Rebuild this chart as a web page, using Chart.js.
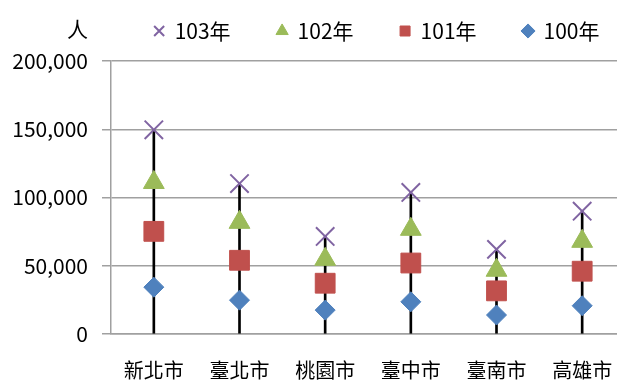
<!DOCTYPE html>
<html><head><meta charset="utf-8">
<script src="https://cdn.jsdelivr.net/npm/chart.js@4"></script>
<style>
html,body{margin:0;padding:0;background:#fff;overflow:hidden;width:617px;height:381px}
#wrap{position:relative;width:640px;height:381px}
#unit{position:absolute;left:67px;top:18px;font:21px/21px "Noto Sans CJK TC";color:#000}
</style></head><body>
<div id="wrap"><canvas id="c" width="640" height="381"></canvas><div id="unit">人</div></div>
<script>
const cities = ['新北市','臺北市','桃園市','臺中市','臺南市','高雄市'];
const years = ['103年','102年','101年','100年'];
const v103 = [149600, 110200, 71500, 103700, 62000, 90000];
const v102 = [111000, 81800, 54700, 76700, 46700, 67900];
const v101 = [75200, 54000, 37200, 52000, 31600, 46000];
const v100 = [34300, 24800, 17500, 23600, 13900, 20700];
const yTicks = [0, 50000, 100000, 150000, 200000];

const FONT = '"Noto Sans CJK TC", "Noto Sans", sans-serif';
const GRID = '#a0a0a0';

const legendTweak = {
  id: 'legendTweak',
  afterInit(chart) {
    const lg = chart.legend;
    const fit = lg.fit;
    lg.fit = function () { fit.call(this); this.height = 87; };
    const draw = lg.draw;
    lg.draw = function () { const c = this.ctx; c.save(); c.translate(20, 0); draw.call(this); c.restore(); };
  }
};

function pts(label, data, style, r, color, bw, order) {
  return { type: 'line', label, data, showLine: false, pointStyle: style,
    pointRadius: r, pointHoverRadius: r, pointBackgroundColor: color, pointBorderColor: color,
    pointBorderWidth: bw, borderColor: color, backgroundColor: color, order };
}

new Chart(document.getElementById('c'), {
  type: 'bar',
  data: {
    labels: cities,
    datasets: [
      pts(years[0], v103, 'crossRot', 13, '#8064a2', 2, 1),
      pts(years[1], v102, 'triangle', 12, '#9bbb59', 1, 2),
      pts(years[2], v101, 'rect', 14, '#c0504d', 1, 3),
      pts(years[3], v100, 'rectRot', 10, '#4f81bd', 1, 4),
      { type: 'bar', label: 'range', data: v103, backgroundColor: '#000', borderWidth: 0,
        barThickness: 2, order: 10 }
    ]
  },
  options: {
    responsive: false,
    animation: false,
    layout: { padding: { top: -26, right: 14, bottom: 0, left: 0 } },
    plugins: {
      tooltip: { enabled: false },
      legend: {
        position: 'top', align: 'end', fullSize: true,
        labels: {
          usePointStyle: true, boxWidth: 10, boxHeight: 10, padding: 46.5,
          color: '#000', font: { family: FONT, size: 21 },
          filter: (item) => item.datasetIndex < 4
        }
      }
    },
    scales: {
      x: {
        type: 'category', offset: true,
        grid: { display: false, drawTicks: false },
        border: { display: true, color: GRID, width: 1.5 },
        ticks: { color: '#000', font: { family: FONT, size: 20 }, padding: 24 },
        afterFit(s) { s.height = 47; }
      },
      y: {
        min: 0, max: 200000,
        afterBuildTicks(s) { s.ticks = yTicks.map(v => ({ value: v })); },
        grid: { color: GRID, lineWidth: 1.5, tickLength: 9, drawTicks: true },
        border: { display: true, color: GRID, width: 1.5 },
        ticks: { color: '#000', font: { family: FONT, size: 21 }, padding: 14,
          callback: (v) => Number(v).toLocaleString('en-US') },
        afterFit(s) { s.width = 111; }
      }
    }
  },
  plugins: [legendTweak]
});
</script>
</body></html>
